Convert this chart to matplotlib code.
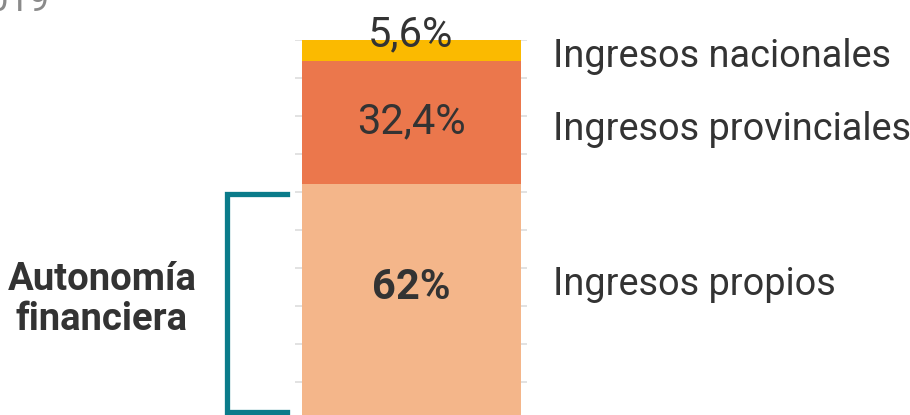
import matplotlib
matplotlib.use("Agg")
import matplotlib.pyplot as plt
import matplotlib.transforms as mtransforms

# data (bottom to top of the stacked bar)
categories = ["Ingresos propios", "Ingresos provinciales", "Ingresos nacionales"]
shares = [62.0, 32.4, 5.6]
value_labels = ["62%", "32,4%", "5,6%"]
colors = ["#F4B68A", "#EB774C", "#FBBA00"]
bracket_label = "Autonomía\nfinanciera"
title_tail = "2019"

text_color = "#333333"
plt.rcParams["font.family"] = ["Roboto", "DejaVu Sans"]

W, H = 910, 415
fig = plt.figure(figsize=(W / 100, H / 100), dpi=100)

# axis area: gridlines run from x=295 to 527 px, 100% at y=40 px, 0% at y=420 px
ax = fig.add_axes([295 / W, (H - 420) / H, 232 / W, 380 / H])
ax.set_xlim(-0.5, 0.5)
ax.set_ylim(0, 100)
ax.set_yticks(range(0, 101, 10))
ax.set_xticks([])
ax.tick_params(left=False, labelleft=False)
ax.yaxis.grid(True, color="#DDDDDD", linewidth=1.2)
ax.set_axisbelow(True)
for s in ax.spines.values():
    s.set_visible(False)

bottom = 0
mids = []
for share, col in zip(shares, colors):
    ax.bar(0, share, width=219 / 232, bottom=bottom, color=col, edgecolor="none", zorder=2)
    mids.append(bottom + share / 2)
    bottom += share

# value labels inside / on the bar (baseline offsets in pixels)
val_offsets = [3, -10, 4]
val_weights = ["bold", "normal", "normal"]
for m, lab, dy, w in zip(mids, value_labels, val_offsets, val_weights):
    ax.annotate(lab, xy=(0, m), xytext=(0, dy), textcoords="offset pixels",
                ha="center", va="baseline", fontsize=30, color=text_color,
                fontweight=w, zorder=3)

# category labels on the right
cat_offsets = [7, -17, -16]
for m, lab, dy in zip(mids, categories, cat_offsets):
    ax.annotate(lab, xy=(1, m), xycoords=("axes fraction", "data"),
                xytext=(26, dy), textcoords="offset pixels",
                ha="left", va="baseline", fontsize=27.3, color=text_color,
                annotation_clip=False)

# bracket marking "autonomía financiera"
tr = mtransforms.blended_transform_factory(ax.transAxes, ax.transData)
bx0, bx1 = (227 - 295) / 232, (287 - 295) / 232
btop, bbot = 59.4, 2.1
ax.plot([bx1, bx0, bx0, bx1], [btop, btop, bbot, bbot], transform=tr,
        color="#0A7B8A", linewidth=3.8, solid_joinstyle="miter",
        clip_on=False)

for i, line in enumerate(bracket_label.split("\n")):
    fig.text(102 / W, 1 - (290 + 40 * i) / H, line, ha="center", va="baseline",
             fontsize=27.5, fontweight="bold", color=text_color)

# cropped subtitle tail at the top-left
fig.text(50 / W, 1 - 11 / H, title_tail, ha="right", va="baseline",
         fontsize=26, color="#8A8A8A")

fig.savefig("out.png", dpi=100)
